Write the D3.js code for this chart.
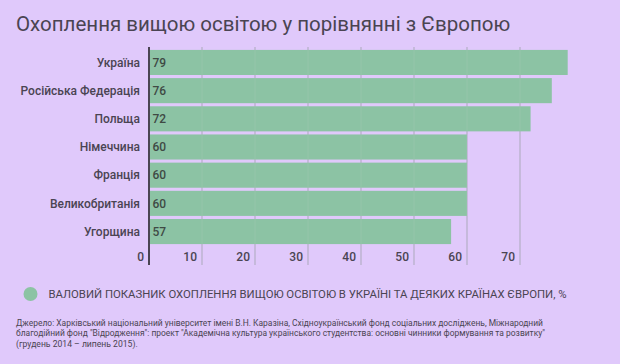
<!DOCTYPE html>
<html><head><meta charset="utf-8">
<script src="https://cdn.jsdelivr.net/npm/d3@7"></script>
<style>
html,body{margin:0;padding:0;background:#e0c9fb;}
svg{display:block;font-family:Roboto,"Noto Sans",sans-serif;}
</style></head>
<body><svg id="c" width="620" height="364"></svg>
<script>
const title = "Охоплення вищою освітою у порівнянні з Європою";
const categories = ["Україна","Російська Федерація","Польща","Німеччина","Франція","Великобританія","Угорщина"];
const values = [79,76,72,60,60,60,57];
const ticks = [0,10,20,30,40,50,60,70];
const legendLabel = "ВАЛОВИЙ ПОКАЗНИК ОХОПЛЕННЯ ВИЩОЮ ОСВІТОЮ В УКРАЇНІ ТА ДЕЯКИХ КРАЇНАХ ЄВРОПИ, %";
const sourceLines = [
  "Джерело: Харківський національний університет імені В.Н. Каразіна, Східноукраїнський фонд соціальних досліджень, Міжнародний",
  "благодійний фонд \"Відродження\": проект \"Академічна культура українського студентства: основні чинники формування та розвитку\"",
  "(грудень 2014 – липень 2015)."
];

const bg = "#e0c9fb", barColor = "#8cc3a4", textColor = "#4a4452", gridColor = "#b9a3cb";
const svg = d3.select("#c");
svg.append("rect").attr("width",620).attr("height",364).attr("fill",bg);

function fit(sel, w){
  sel.each(function(){
    const L = this.getComputedTextLength();
    if (L > 0) d3.select(this).attr("textLength", w).attr("lengthAdjust","spacingAndGlyphs");
  });
}

svg.append("text").attr("x",16).attr("y",31).attr("font-size",20.5)
  .attr("fill",textColor).text(title);

const x = d3.scaleLinear().domain([0,10]).range([149,202]);
const y = d3.scaleBand().domain(categories).range([48.5,245.5]).paddingInner(0.11).paddingOuter(0.05);

const g = svg.append("g");
g.selectAll("line.grid").data(ticks.slice(1)).join("line")
  .attr("x1",d=>x(d)).attr("x2",d=>x(d)).attr("y1",47).attr("y2",265)
  .attr("stroke",gridColor).attr("stroke-width",1);
g.selectAll("rect.bar").data(values).join("rect")
  .attr("x",x(0)).attr("y",(d,i)=>y(categories[i]))
  .attr("width",d=>x(d)-x(0)).attr("height",y.bandwidth())
  .attr("fill",barColor);
g.selectAll("line.grid2").data(ticks.slice(1)).join("line")
  .attr("x1",d=>x(d)).attr("x2",d=>x(d)).attr("y1",47).attr("y2",265)
  .attr("stroke","#a9cbb8").attr("stroke-width",1).attr("opacity",0.35);
g.selectAll("text.tick").data(ticks).join("text")
  .attr("x",d=>x(d)-5).attr("y",261).attr("text-anchor","end")
  .attr("font-size",12).attr("font-weight",500).attr("fill",textColor).text(d=>d);
g.append("line").attr("x1",x(0)).attr("x2",x(0)).attr("y1",47).attr("y2",265)
  .attr("stroke","#4a4452").attr("stroke-width",2);
g.selectAll("text.cat").data(categories).join("text")
  .attr("x",140).attr("y",d=>y(d)+y.bandwidth()/2).attr("dy","0.35em")
  .attr("text-anchor","end").attr("font-size",12).attr("font-weight",500)
  .attr("fill",textColor).text(d=>d);
g.selectAll("text.val").data(values).join("text")
  .attr("x",x(0)+3.5).attr("y",(d,i)=>y(categories[i])+y.bandwidth()/2).attr("dy","0.35em")
  .attr("font-size",12).attr("font-weight",500).attr("fill","#3f4a44").text(d=>d);

svg.append("circle").attr("cx",30.5).attr("cy",294).attr("r",7).attr("fill",barColor);
svg.append("text").attr("x",48.5).attr("y",298).attr("font-size",11.5).attr("fill",textColor)
  .text(legendLabel).call(fit, 518);

const src = svg.selectAll("text.src").data(sourceLines).join("text")
  .attr("x",16).attr("y",(d,i)=>325.5+i*10.5).attr("font-size",8.6)
  .attr("fill",textColor).text(d=>d);
src.filter((d,i)=>i===0).call(fit, 527);
src.filter((d,i)=>i===1).call(fit, 529);
</script></body></html>
